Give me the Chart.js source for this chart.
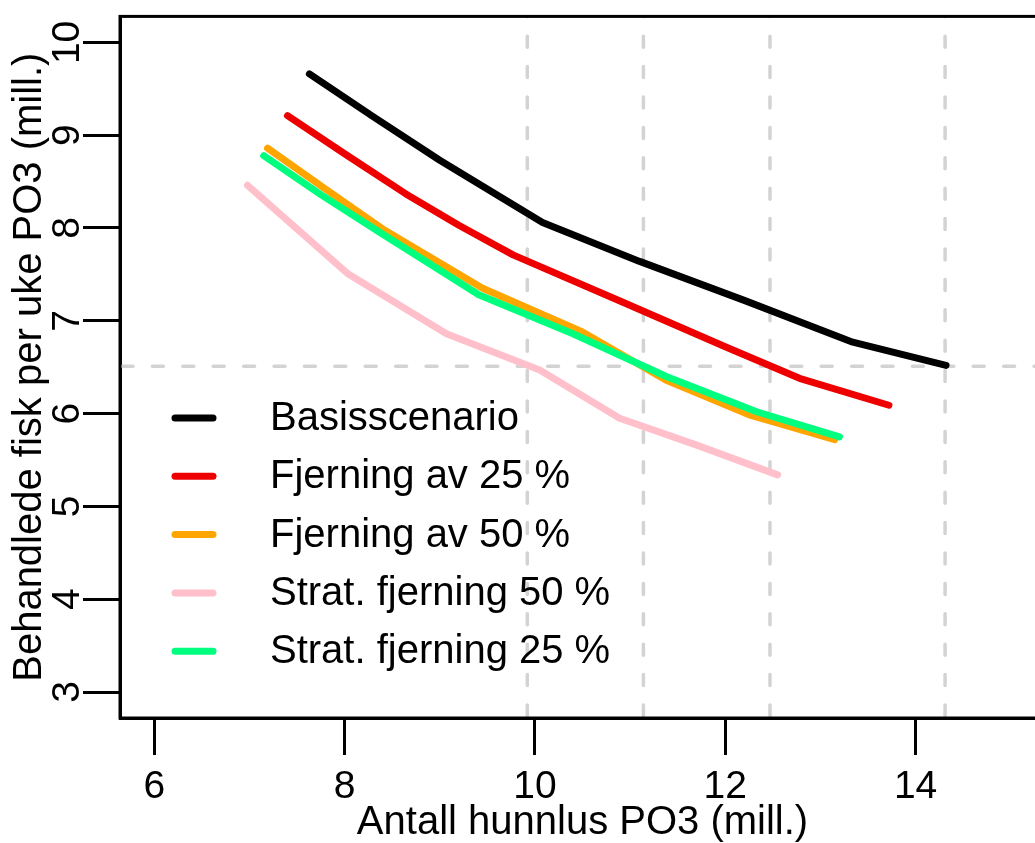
<!DOCTYPE html>
<html>
<head>
<meta charset="utf-8">
<script src="https://cdn.jsdelivr.net/npm/chart.js@4.4.0/dist/chart.umd.min.js"></script>
<style>
  html, body { margin: 0; padding: 0; overflow: hidden; background: #fff; width: 1035px; height: 843px; }
  canvas { display: block; }
</style>
</head>
<body>
<canvas id="myChart" width="1046" height="843"></canvas>
<script>
// tick labels
const xTicks = [6, 8, 10, 12, 14];
const yTicks = [3, 4, 5, 6, 7, 8, 9, 10];

// series names + colours (legend order)
const seriesNames = ["Basisscenario", "Fjerning av 25 %", "Fjerning av 50 %", "Strat. fjerning 50 %", "Strat. fjerning 25 %"];
const seriesColors = ["#000000", "#EE0000", "#FFA500", "#FFC0CB", "#00FF7F"];

// values (mill.)
const basisX = [7.63, 8.3, 9.0, 10.08, 11.1, 12.2, 13.34, 14.32];
const basisY = [9.66, 9.2, 8.73, 8.06, 7.64, 7.22, 6.77, 6.52];
const fjern25X = [7.40, 8.0, 8.64, 9.2, 9.77, 10.9, 12.0, 12.78, 13.72];
const fjern25Y = [9.21, 8.80, 8.37, 8.03, 7.71, 7.21, 6.72, 6.38, 6.09];
const fjern50X = [7.19, 7.8, 8.40, 9.45, 10.50, 11.38, 12.27, 13.15];
const fjern50Y = [8.86, 8.42, 7.99, 7.35, 6.88, 6.36, 5.98, 5.72];
const strat50X = [6.98, 8.03, 9.07, 10.05, 10.89, 11.7, 12.55];
const strat50Y = [8.46, 7.51, 6.86, 6.47, 5.95, 5.66, 5.34];
const strat25X = [7.15, 7.75, 8.36, 9.41, 10.4, 11.38, 12.33, 13.20];
const strat25Y = [8.78, 8.36, 7.96, 7.28, 6.86, 6.40, 6.02, 5.75];

// dashed reference lines
const refX = [9.92, 11.14, 12.47, 14.31];
const refY = [6.51];

const seriesX = [basisX, fjern25X, fjern50X, strat50X, strat25X];
const seriesY = [basisY, fjern25Y, fjern50Y, strat50Y, strat25Y];

const fontFam = '"Liberation Sans", Arial, Helvetica, sans-serif';

function toPoints(xs, ys) {
  return xs.map(function (x, i) { return { x: x, y: ys[i] }; });
}

/********************* dashed ablines *********************/
const refLines = {
  id: "refLines",
  beforeDatasetsDraw(chart) {
    const ctx = chart.ctx;
    const a = chart.chartArea;
    ctx.save();
    ctx.beginPath();
    ctx.rect(a.left, a.top, a.right - a.left, a.bottom - a.top);
    ctx.clip();
    ctx.strokeStyle = "#D3D3D3";
    ctx.lineWidth = 3.5;
    ctx.lineCap = "round";
    ctx.setLineDash([11, 19.4]);
    refX.forEach(function (v) {
      const px = chart.scales.x.getPixelForValue(v);
      ctx.beginPath();
      ctx.moveTo(px, a.bottom - 2);
      ctx.lineTo(px, a.top);
      ctx.stroke();
    });
    refY.forEach(function (v) {
      const py = chart.scales.y.getPixelForValue(v);
      ctx.beginPath();
      ctx.moveTo(a.left + 2, py);
      ctx.lineTo(a.right, py);
      ctx.stroke();
    });
    ctx.restore();
  },
};

/********************* legend without box *********************/
const legendBox = {
  id: "legendBox",
  afterDatasetsDraw(chart) {
    const ctx = chart.ctx;
    const a = chart.chartArea;
    ctx.save();
    ctx.font = "40px " + fontFam;
    ctx.textBaseline = "middle";
    ctx.textAlign = "left";
    chart.data.datasets.forEach(function (ds, i) {
      const y = 418 + i * 58.3;
      ctx.strokeStyle = ds.borderColor;
      ctx.lineWidth = 7;
      ctx.lineCap = "round";
      ctx.beginPath();
      ctx.moveTo(a.left + 55, y);
      ctx.lineTo(a.left + 93, y);
      ctx.stroke();
      ctx.fillStyle = "#000";
      ctx.fillText(ds.label, a.left + 150, y + 1);
    });
    ctx.restore();
  },
};

/********************* box round plot *********************/
const plotBox = {
  id: "plotBox",
  afterDraw(chart) {
    const ctx = chart.ctx;
    const a = chart.chartArea;
    ctx.save();
    ctx.strokeStyle = "#000";
    ctx.lineWidth = 3;
    ctx.strokeRect(a.left, a.top, a.right - a.left, a.bottom - a.top);
    ctx.restore();
  },
};

const ctx = document.getElementById("myChart");
const myChart = new Chart(ctx, {
  type: "line",
  data: {
    datasets: seriesNames.map(function (name, i) {
      return {
        label: name,
        data: toPoints(seriesX[i], seriesY[i]),
        borderColor: seriesColors[i],
        backgroundColor: seriesColors[i],
        borderWidth: 7,
        pointRadius: 0,
        tension: 0,
        fill: false,
        borderCapStyle: "round",
        borderJoinStyle: "round",
        order: seriesNames.length - i,
      };
    }),
  },
  options: {
    responsive: false,
    animation: false,
    events: [],
    layout: { padding: { top: 16, right: 1, left: 0, bottom: 0 } },
    plugins: {
      legend: { display: false },
      tooltip: { enabled: false },
    },
    scales: {
      x: {
        type: "linear",
        min: 5.64,
        max: 15.36,
        afterBuildTicks: function (s) { s.ticks = xTicks.map(function (v) { return { value: v }; }); },
        afterFit: function (s) { s.height = 125; },
        border: { display: true, color: "#000", width: 3 },
        grid: { drawOnChartArea: false, drawTicks: true, tickLength: 37, color: "#000", lineWidth: 3 },
        ticks: { color: "#000", font: { family: fontFam, size: 39 }, padding: 9, maxRotation: 0, autoSkip: false },
        title: {
          display: true,
          text: "Antall hunnlus PO3 (mill.)",
          color: "#000",
          font: { family: fontFam, size: 40, lineHeight: 1 },
          padding: { top: 0, bottom: 0 },
        },
      },
      y: {
        type: "linear",
        min: 2.72,
        max: 10.28,
        afterBuildTicks: function (s) { s.ticks = yTicks.map(function (v) { return { value: v }; }); },
        afterFit: function (s) { s.width = 120; },
        border: { display: true, color: "#000", width: 3 },
        grid: { drawOnChartArea: false, drawTicks: true, tickLength: 37, color: "#000", lineWidth: 3 },
        ticks: {
          color: "#000",
          font: { family: fontFam, size: 39 },
          minRotation: 90,
          maxRotation: 90,
          crossAlign: "center",
          padding: -7,
          autoSkip: false,
        },
        title: {
          display: true,
          text: "Behandlede fisk per uke PO3 (mill.)",
          color: "#000",
          font: { family: fontFam, size: 40, lineHeight: 1 },
          padding: { top: 10, bottom: 0 },
        },
      },
    },
  },
  plugins: [refLines, legendBox, plotBox],
});
</script>
</body>
</html>
